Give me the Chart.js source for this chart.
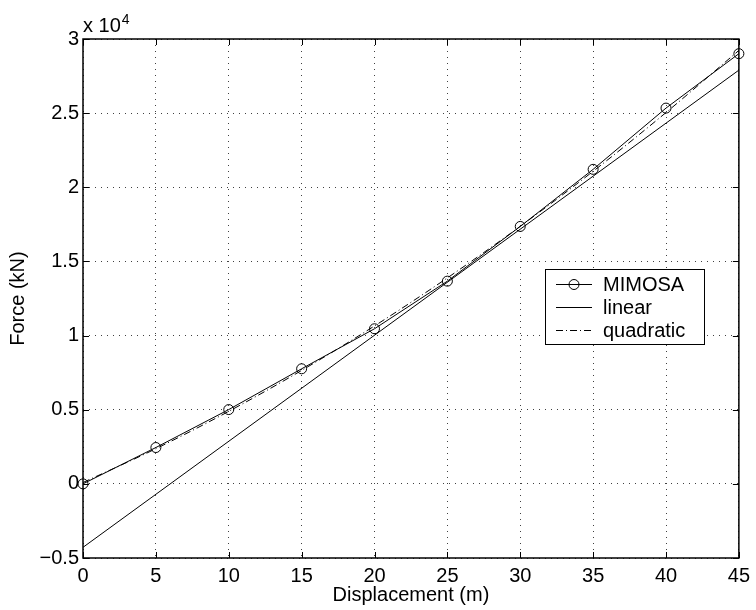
<!DOCTYPE html>
<html><head><meta charset="utf-8">
<script src="https://cdn.jsdelivr.net/npm/chart.js@4/dist/chart.umd.min.js"></script>
<style>html,body{margin:0;padding:0;background:#fff;}#wrap{width:756px;height:610px;}</style>
</head><body><div id="wrap"><canvas id="c" width="756" height="610"></canvas></div>
<script>
// ---- data (force in units of 10^4 kN) ----
const displacement = [0, 5, 10, 15, 20, 25, 30, 35, 40, 45];
const forceMimosa = [0, 0.245, 0.501, 0.776, 1.046, 1.367, 1.736, 2.121, 2.534, 2.901];
const linearX = [0, 45];
const forceLinear = [-0.428, 2.79];
const forceQuadratic = [0.009, 0.237, 0.489, 0.765, 1.065, 1.389, 1.737, 2.108, 2.504, 2.923];
const xTickValues = [0, 5, 10, 15, 20, 25, 30, 35, 40, 45];
const xTickLabels = ['0', '5', '10', '15', '20', '25', '30', '35', '40', '45'];
const yTickValues = [-0.5, 0, 0.5, 1, 1.5, 2, 2.5, 3];
const yTickLabels = ['\u22120.5', '0', '0.5', '1', '1.5', '2', '2.5', '3'];
const seriesNames = ['MIMOSA', 'linear', 'quadratic'];
const xTitle = 'Displacement (m)';
const yTitle = 'Force (kN)';
const expBase = 'x 10';
const expPower = '4';

const FONT = "'Liberation Sans', Arial, Helvetica, sans-serif";
const pts = (xs, ys) => xs.map((x, i) => ({ x: x, y: ys[i] }));

const framePlugin = {
  id: 'frame',
  afterDraw(chart) {
    const ctx = chart.ctx, ca = chart.chartArea;
    const xs = chart.scales.x, ys = chart.scales.y;
    ctx.save();
    ctx.strokeStyle = '#000';
    ctx.lineWidth = 1.5;
    ctx.setLineDash([]);
    ctx.strokeRect(ca.left, ca.top, ca.right - ca.left, ca.bottom - ca.top);
    ctx.lineWidth = 1;
    const tl = 6;
    ctx.beginPath();
    xTickValues.forEach(v => {
      const px = Math.round(xs.getPixelForValue(v)) + 0.5;
      ctx.moveTo(px, ca.bottom); ctx.lineTo(px, ca.bottom - tl);
      ctx.moveTo(px, ca.top); ctx.lineTo(px, ca.top + tl);
    });
    yTickValues.forEach(v => {
      const py = Math.round(ys.getPixelForValue(v)) + 0.5;
      ctx.moveTo(ca.left, py); ctx.lineTo(ca.left + tl, py);
      ctx.moveTo(ca.right, py); ctx.lineTo(ca.right - tl, py);
    });
    ctx.stroke();

    // exponent label
    ctx.fillStyle = '#000';
    ctx.textAlign = 'left';
    ctx.textBaseline = 'alphabetic';
    ctx.font = '20px ' + FONT;
    ctx.fillText(expBase, ca.left, 32);
    const w = ctx.measureText(expBase).width;
    ctx.font = '14px ' + FONT;
    ctx.fillText(expPower, ca.left + w + 1, 24);

    // legend
    const bx = ca.left + 462, by = ca.top + 230, bw = 159, bh = 75;
    ctx.fillStyle = '#fff';
    ctx.fillRect(bx, by, bw, bh);
    ctx.strokeStyle = '#000';
    ctx.lineWidth = 1;
    ctx.strokeRect(bx + 0.5, by + 0.5, bw, bh);
    chart.data.datasets.forEach((ds, i) => {
      const y = Math.round(by + 15 + i * 23) + 0.5;
      ctx.beginPath();
      ctx.setLineDash(ds.borderDash || []);
      ctx.moveTo(bx + 11, y); ctx.lineTo(bx + 47, y);
      ctx.stroke();
      ctx.setLineDash([]);
      if (ds.pointRadius > 0) {
        ctx.beginPath();
        ctx.arc(bx + 29, y, ds.pointRadius, 0, Math.PI * 2);
        ctx.stroke();
      }
      ctx.fillStyle = '#000';
      ctx.font = '20px ' + FONT;
      ctx.textBaseline = 'middle';
      ctx.fillText(ds.label, bx + 58, y + 1);
    });
    ctx.restore();
  }
};

new Chart(document.getElementById('c'), {
  type: 'line',
  data: {
    datasets: [
      { label: seriesNames[0], data: pts(displacement, forceMimosa), borderColor: '#000', borderWidth: 1,
        pointRadius: 5, pointHoverRadius: 5, pointStyle: 'circle', pointBackgroundColor: 'rgba(0,0,0,0)',
        pointBorderColor: '#000', pointBorderWidth: 1, fill: false, tension: 0, clip: false },
      { label: seriesNames[1], data: pts(linearX, forceLinear), borderColor: '#000', borderWidth: 1,
        pointRadius: 0, fill: false, tension: 0 },
      { label: seriesNames[2], data: pts(displacement, forceQuadratic), borderColor: '#000', borderWidth: 1,
        borderDash: [7, 3, 1, 3], pointRadius: 0, fill: false, cubicInterpolationMode: 'monotone' }
    ]
  },
  options: {
    responsive: false,
    animation: false,
    events: [],
    layout: { padding: { left: 0, right: 13, top: 39, bottom: 0 } },
    plugins: { legend: { display: false }, tooltip: { enabled: false } },
    scales: {
      x: {
        type: 'linear', min: 0, max: 45,
        afterBuildTicks: s => { s.ticks = xTickValues.map(v => ({ value: v })); },
        afterFit: s => { s.height = 52; },
        grid: { color: 'rgba(0,0,0,0.75)', lineWidth: 1, drawTicks: false },
        border: { display: false, dash: [1, 5] },
        ticks: { color: '#000', font: { family: FONT, size: 20 }, padding: 6, maxRotation: 0,
          callback: (v) => xTickLabels[xTickValues.indexOf(v)] },
        title: { display: true, text: xTitle, color: '#000', font: { family: FONT, size: 20 }, padding: { top: 0, bottom: 3 } }
      },
      y: {
        type: 'linear', min: -0.5, max: 3,
        afterBuildTicks: s => { s.ticks = yTickValues.map(v => ({ value: v })); },
        afterFit: s => { s.width = 83; },
        grid: { color: 'rgba(0,0,0,0.75)', lineWidth: 1, drawTicks: false },
        border: { display: false, dash: [1, 5] },
        ticks: { color: '#000', font: { family: FONT, size: 20 }, padding: 4,
          callback: (v) => yTickLabels[yTickValues.indexOf(v)] },
        title: { display: true, text: yTitle, color: '#000', font: { family: FONT, size: 20 }, padding: { top: 6, bottom: 0 } }
      }
    }
  },
  plugins: [framePlugin]
});
</script></body></html>
